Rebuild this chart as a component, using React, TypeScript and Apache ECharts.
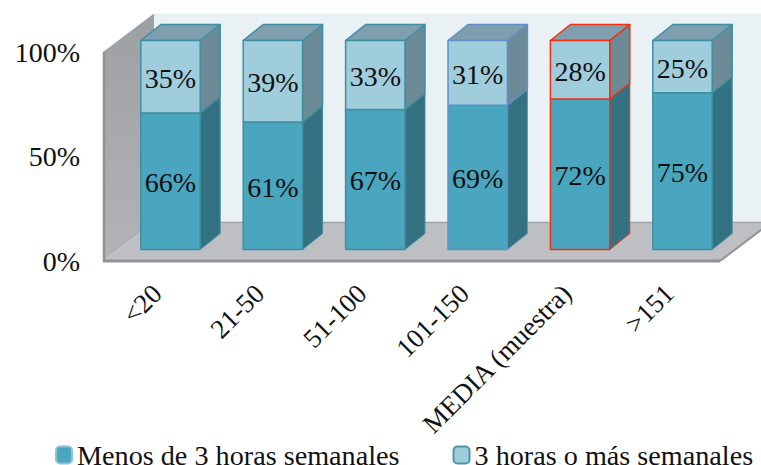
import React, { useEffect, useRef } from "react";
import * as echarts from "echarts";

const categories = ["<20", "21-50", "51-100", "101-150", "MEDIA (muestra)", ">151"];
const menosDe3 = [66, 61, 67, 69, 72, 75];
const tresOMas = [35, 39, 33, 31, 28, 25];
const seriesNames = ["Menos de 3 horas semanales", "3 horas o más semanales"];
const yTicks = [0, 50, 100];

const FONT = "'Liberation Serif', serif";
const TEAL_EDGE = "#3F8FA3";
const edgeColors = [TEAL_EDGE, TEAL_EDGE, TEAL_EDGE, "#6090C8", "#F2300F", TEAL_EDGE];
const LABEL_SHIFT = 3;
const GRID = { left: 103 + LABEL_SHIFT, top: 52, width: 614.4, height: 209 };
const FLOOR_DX = 51;
const FLOOR_DY = -38.5;
const BAR_DX = 16.3 - LABEL_SHIFT;
const BAR_DY = -11.5;
const DEPTH_DX = 20;
const DEPTH_DY = -16;

const poly = (points: number[][], fill: any, stroke?: string, lineWidth = 1.5) => ({
  type: "polygon",
  shape: { points },
  style: { fill, stroke: stroke ?? "none", lineWidth, lineJoin: "round" },
});

function renderWalls(params: any) {
  const c = params.coordSys;
  const l = c.x - LABEL_SHIFT, t = c.y, r = l + c.width + 2.6, b = c.y + c.height;
  const wallGrad = new echarts.graphic.LinearGradient(0, 0, 0, 1, [
    { offset: 0, color: "#9DA0A3" },
    { offset: 1, color: "#B2B3B6" },
  ]);
  return {
    type: "group",
    children: [
      poly([[l + FLOOR_DX, t + FLOOR_DY], [r + FLOOR_DX + 10, t + FLOOR_DY], [r + FLOOR_DX + 10, b + FLOOR_DY], [l + FLOOR_DX, b + FLOOR_DY]], "#EAF1F5"),
      poly([[l, t], [l + FLOOR_DX, t + FLOOR_DY], [l + FLOOR_DX, b + FLOOR_DY], [l, b]], wallGrad),
      poly([[l, b], [l + FLOOR_DX, b + FLOOR_DY], [r + FLOOR_DX, b + FLOOR_DY], [r, b]], "#BDBFC3"),
      { type: "line", shape: { x1: l + FLOOR_DX, y1: b + FLOOR_DY, x2: r + FLOOR_DX, y2: b + FLOOR_DY }, style: { stroke: "#A3A4A6", lineWidth: 1.5 } },
      { type: "line", shape: { x1: r, y1: b, x2: r + FLOOR_DX, y2: b + FLOOR_DY }, style: { stroke: "#929292", lineWidth: 2 } },
      { type: "line", shape: { x1: l, y1: b, x2: r, y2: b }, style: { stroke: "#929292", lineWidth: 3 } },
      { type: "line", shape: { x1: l + 1, y1: t, x2: l + 1, y2: b }, style: { stroke: "#8F9092", lineWidth: 2.5 } },
    ],
  };
}

const makeRender = (
  own: number[],
  below: number[],
  other: number[],
  colors: { front: string; side: string; top?: string },
) => (params: any, api: any) => {
  const i = params.dataIndex;
  const total = below[i] + own[i] + other[i];
  const startVal = (below[i] / total) * 100;
  const endVal = ((below[i] + own[i]) / total) * 100;
  const p0 = api.coord([i, startVal]);
  const p1 = api.coord([i, endVal]);
  const half = api.size([1, 0])[0] * 0.29;
  const cx = p0[0] + BAR_DX;
  const x0 = cx - half, x1 = cx + half;
  const y0 = p0[1] + BAR_DY, y1 = p1[1] + BAR_DY;
  const edge = edgeColors[i];
  const children: any[] = [
    poly([[x1, y0], [x1 + DEPTH_DX, y0 + DEPTH_DY], [x1 + DEPTH_DX, y1 + DEPTH_DY], [x1, y1]], colors.side, colors.top ? edge : undefined, 1.5),
  ];
  if (colors.top) {
    children.push(poly([[x0, y1], [x0 + DEPTH_DX, y1 + DEPTH_DY], [x1 + DEPTH_DX, y1 + DEPTH_DY], [x1, y1]], colors.top, edge, 1.5));
  }
  children.push(poly([[x0, y0], [x1, y0], [x1, y1], [x0, y1]], colors.front, edge, 1.5));
  if (!colors.top) {
    children.push({ type: "line", shape: { x1, y1: y0, x2: x1 + DEPTH_DX, y2: y0 + DEPTH_DY }, style: { stroke: edge, lineWidth: 1 } });
    children.push({ type: "line", shape: { x1: x1 + DEPTH_DX, y1: y0 + DEPTH_DY, x2: x1 + DEPTH_DX, y2: y1 + DEPTH_DY }, style: { stroke: edge, lineWidth: 1 } });
  }
  children.push({
    type: "text",
    style: {
      text: `${own[i]}%`,
      x: cx,
      y: (y0 + y1) / 2 + 1.5,
      align: "center",
      verticalAlign: "middle",
      fontFamily: FONT,
      fontSize: 28,
      fill: "#111111",
    },
  });
  return { type: "group", children };
};

export default function App() {
  const ref = useRef<HTMLDivElement>(null);
  useEffect(() => {
    const chart = echarts.init(ref.current!, undefined, { renderer: "svg" });
    chart.setOption({
      animation: false,
      backgroundColor: "#ffffff",
      grid: GRID,
      legend: {
        left: 50,
        top: 436,
        itemWidth: 16,
        itemHeight: 17,
        itemGap: 53,
        data: seriesNames,
        textStyle: { fontFamily: FONT, fontSize: 28.2, lineHeight: 24, color: "#111111", padding: [0, 0, 0, 0] },
      },
      xAxis: {
        type: "category",
        data: categories,
        axisLine: { show: false },
        axisTick: { show: false },
        axisLabel: {
          interval: 0,
          rotate: 45,
          margin: 28,
          fontFamily: FONT,
          fontSize: 27,
          color: "#111111",
        },
      },
      yAxis: {
        type: "value",
        min: yTicks[0],
        max: yTicks[yTicks.length - 1],
        interval: 50,
        axisLine: { show: false },
        axisTick: { show: false },
        splitLine: { show: false },
        axisLabel: {
          margin: 26,
          fontFamily: FONT,
          fontSize: 28,
          color: "#111111",
          formatter: (v: number) => `${v}%`,
        },
      },
      series: [
        {
          type: "custom",
          name: "walls",
          silent: true,
          z: 1,
          coordinateSystem: "cartesian2d",
          data: [[0, 0]],
          encode: { x: 0, y: 1 },
          renderItem: renderWalls,
        },
        {
          type: "custom",
          name: seriesNames[0],
          z: 2,
          coordinateSystem: "cartesian2d",
          itemStyle: { color: "#4AA5BE", borderColor: "#8CC4D4", borderWidth: 1 },
          data: menosDe3.map((v, i) => [i, v]),
          encode: { x: 0, y: 1 },
          renderItem: makeRender(menosDe3, menosDe3.map(() => 0), tresOMas, { front: "#4AA5BE", side: "#347282" }),
        },
        {
          type: "custom",
          name: seriesNames[1],
          z: 3,
          coordinateSystem: "cartesian2d",
          itemStyle: { color: "#A0CDDC", borderColor: "#4C96AB", borderWidth: 1.5 },
          data: tresOMas.map((v, i) => [i, v]),
          encode: { x: 0, y: 1 },
          renderItem: makeRender(tresOMas, menosDe3, [0, 0, 0, 0, 0, 0], { front: "#A0CDDC", side: "#6D8B96", top: "#7F9FAF" }),
        },
      ],
    });
    return () => chart.dispose();
  }, []);
  return <div ref={ref} style={{ position: "fixed", left: 0, top: 0, width: 761, height: 465 }} />;
}
